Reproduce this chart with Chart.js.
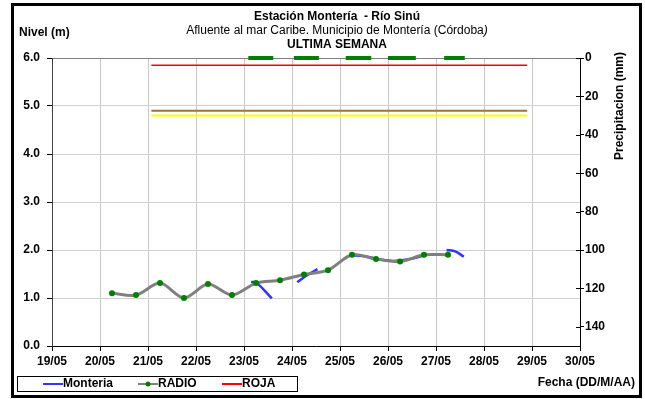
<!DOCTYPE html>
<html>
<head>
<meta charset="utf-8">
<script src="https://cdn.jsdelivr.net/npm/chart.js@4.4.0/dist/chart.umd.min.js"></script>
<style>
  html, body { margin: 0; padding: 0; background: #fff; }
  canvas { display: block; }
</style>
</head>
<body>
<canvas id="nivelChart" width="645" height="399"></canvas>
<script>
// dias de mayo (20.25 = 20/05 06:00)
const radioDias = [20.25, 20.75, 21.25, 21.75, 22.25, 22.75, 23.25, 23.75, 24.25, 24.75, 25.25, 25.75, 26.25, 26.75, 27.25];
const radioNivel = [1.10, 1.06, 1.31, 1.00, 1.29, 1.06, 1.31, 1.37, 1.49, 1.58, 1.90, 1.81, 1.76, 1.90, 1.90];

// sensor Monteria, con huecos (null)
const monteriaDias = [23.15, 23.27, 23.58, 23.62, 24.11, 24.32, 24.53, 24.6, 25.2, 25.5, 25.8, 26.1, 26.4, 26.8, 26.9, 27.22, 27.4, 27.58];
const monteriaNivel = [1.34, 1.31, 0.99, null, 1.33, 1.48, 1.60, null, 1.89, 1.87, 1.81, 1.77, 1.80, 1.90, null, 2.00, 1.97, 1.86];

// precipitacion (mm), eje derecho invertido
const precipDias = [23.09, 23.61, 23.8, 24.04, 24.56, 24.8, 25.12, 25.65, 25.8, 26.0, 26.58, 26.9, 27.17, 27.6];
const precipMm = [0, 0, null, 0, 0, null, 0, 0, null, 0, 0, null, 0, 0];

// niveles de alerta
const umbralDias = [21.07, 28.9];
const nivelRoja = 5.85;
const nivelNaranja = 4.9;
const nivelAmarilla = 4.8;

const fechaTicks = ['19/05', '20/05', '21/05', '22/05', '23/05', '24/05', '25/05', '26/05', '27/05', '28/05', '29/05', '30/05'];
const leyenda = ['Monteria', 'RADIO', 'ROJA'];

const FONT = "'Liberation Sans', Arial, sans-serif";

function puntos(xs, ys) {
    return xs.map((x, i) => ({ x: x, y: ys[i] }));
}

const textosPlugin = {
    id: 'textos',
    afterDraw(chart) {
        const ctx = chart.ctx;
        ctx.save();

        // cruces del eje derecho
        const y2 = chart.scales.y2;
        ctx.strokeStyle = '#000';
        ctx.lineWidth = 1;
        y2.ticks.forEach(t => {
            const py = Math.round(y2.getPixelForValue(t.value)) + 0.5;
            ctx.beginPath();
            ctx.moveTo(y2.left - 4, py);
            ctx.lineTo(y2.left, py);
            ctx.stroke();
        });

        // marco
        ctx.strokeStyle = '#000';
        ctx.lineWidth = 3;
        ctx.strokeRect(12.5, 4.5, 628, 392);

        ctx.fillStyle = '#000';
        ctx.textBaseline = 'middle';
        ctx.textAlign = 'center';
        ctx.font = 'bold 12px ' + FONT;
        ctx.fillText('Estación Montería  - Río Sinú', 337, 17);

        // subtitulo, con el parentesis final en cursiva
        const sub = 'Afluente al mar Caribe. Municipio de Montería (Córdoba';
        ctx.font = '12px ' + FONT;
        const w1 = ctx.measureText(sub).width;
        ctx.font = 'italic 12px ' + FONT;
        const w2 = ctx.measureText(')').width;
        const sx = 337 - (w1 + w2) / 2;
        ctx.textAlign = 'left';
        ctx.font = '12px ' + FONT;
        ctx.fillText(sub, sx, 31);
        ctx.font = 'italic 12px ' + FONT;
        ctx.fillText(')', sx + w1, 31);

        ctx.textAlign = 'center';
        ctx.font = 'bold 12px ' + FONT;
        ctx.fillText('ULTIMA SEMANA', 337, 45);

        ctx.textAlign = 'left';
        ctx.fillText('Nivel (m)', 19, 33);
        ctx.textAlign = 'right';
        ctx.fillText('Fecha (DD/M/AA)', 635, 383);

        ctx.save();
        ctx.translate(620, 106);
        ctx.rotate(-Math.PI / 2);
        ctx.textAlign = 'center';
        ctx.fillText('Precipitacion (mm)', 0, 0);
        ctx.restore();

        // leyenda
        ctx.lineWidth = 1;
        ctx.strokeStyle = '#000';
        ctx.strokeRect(17.5, 376.5, 280, 15);
        const posX = [43, 138, 222];
        const ly = 384;
        ctx.textAlign = 'left';
        leyenda.forEach((nombre, i) => {
            const ds = chart.data.datasets.find(d => d.label === nombre);
            const x0 = posX[i];
            ctx.strokeStyle = ds.borderColor;
            ctx.lineWidth = 2;
            ctx.beginPath();
            ctx.moveTo(x0, ly);
            ctx.lineTo(x0 + 20, ly);
            ctx.stroke();
            if (ds.pointRadius > 0) {
                ctx.fillStyle = ds.pointBackgroundColor;
                ctx.beginPath();
                ctx.arc(x0 + 10, ly, 2.5, 0, Math.PI * 2);
                ctx.fill();
            }
            ctx.fillStyle = '#000';
            ctx.fillText(nombre, x0 + 20, ly);
        });
        ctx.restore();
    }
};

const ctx = document.getElementById('nivelChart').getContext('2d');
const nivelChart = new Chart(ctx, {
    type: 'line',
    data: {
        datasets: [
            {
                label: 'RADIO',
                data: puntos(radioDias, radioNivel),
                borderColor: '#808080',
                borderWidth: 3,
                pointRadius: 3,
                pointBackgroundColor: '#008000',
                pointBorderColor: '#008000',
                pointBorderWidth: 0,
                tension: 0.3,
                yAxisID: 'y',
                order: 0
            },
            {
                label: 'Monteria',
                data: puntos(monteriaDias, monteriaNivel),
                borderColor: '#3333ff',
                borderWidth: 2.5,
                pointRadius: 0,
                tension: 0.4,
                yAxisID: 'y',
                order: 1
            },
            {
                label: 'ROJA',
                data: puntos(umbralDias, [nivelRoja, nivelRoja]),
                borderColor: '#ff0000',
                borderWidth: 1.5,
                pointRadius: 0,
                yAxisID: 'y',
                order: 2
            },
            {
                label: 'NARANJA',
                data: puntos(umbralDias, [nivelNaranja, nivelNaranja]),
                borderColor: '#a0703c',
                borderWidth: 2,
                pointRadius: 0,
                yAxisID: 'y',
                order: 2
            },
            {
                label: 'AMARILLA',
                data: puntos(umbralDias, [nivelAmarilla, nivelAmarilla]),
                borderColor: '#ffff00',
                borderWidth: 2,
                pointRadius: 0,
                yAxisID: 'y',
                order: 2
            },
            {
                label: 'Precipitacion',
                data: puntos(precipDias, precipMm),
                borderColor: '#008000',
                borderWidth: 4,
                pointRadius: 0,
                clip: false,
                yAxisID: 'y2',
                order: -1
            }
        ]
    },
    options: {
        responsive: false,
        animation: false,
        layout: { padding: { top: 58, left: 0, right: 0, bottom: 0 } },
        plugins: {
            legend: { display: false },
            title: { display: false },
            tooltip: { enabled: false }
        },
        scales: {
            x: {
                type: 'linear',
                min: 19,
                max: 30,
                afterFit: s => { s.height = 53; },
                ticks: {
                    stepSize: 1,
                    autoSkip: false,
                    maxRotation: 0,
                    padding: 3,
                    color: '#000',
                    font: { family: FONT, size: 12, weight: 'bold' },
                    callback: (v, i) => fechaTicks[i]
                },
                grid: { color: '#c8c8c8', tickColor: '#000', tickLength: 5 },
                border: { color: '#000', width: 1 }
            },
            y: {
                position: 'left',
                min: 0,
                max: 6,
                afterFit: s => { s.width = 52; },
                ticks: {
                    stepSize: 1,
                    padding: 7,
                    color: '#000',
                    font: { family: FONT, size: 12, weight: 'bold' },
                    callback: v => v.toFixed(1)
                },
                grid: {
                    color: c => c.tick && c.tick.value === 6 ? '#808080' : '#d0d0d0',
                    tickColor: '#000',
                    tickLength: 5
                },
                border: { color: '#404040', width: 1 }
            },
            y2: {
                position: 'right',
                reverse: true,
                min: 0,
                max: 150,
                afterFit: s => { s.width = 65; },
                afterBuildTicks: s => { s.ticks = s.ticks.filter(t => t.value % 20 === 0); },
                ticks: {
                    stepSize: 20,
                    padding: 1,
                    color: '#000',
                    font: { family: FONT, size: 12, weight: 'bold' }
                },
                grid: { drawOnChartArea: false, tickColor: '#000', tickLength: 4 },
                border: { color: '#000', width: 1 }
            }
        }
    },
    plugins: [textosPlugin]
});
</script>
</body>
</html>
